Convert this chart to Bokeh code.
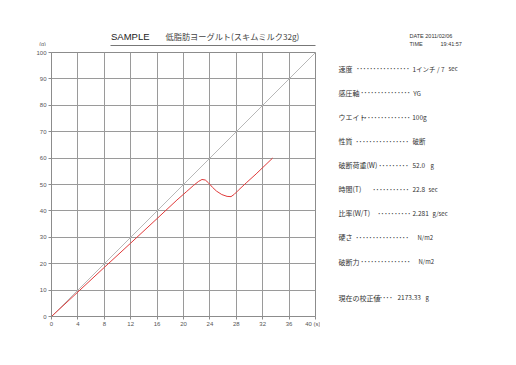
from bokeh.plotting import figure
from bokeh.models import Range1d, FixedTicker
from bokeh.layouts import column, row
from bokeh.core.properties import value
from bokeh.embed import file_html
from bokeh.resources import INLINE

# ---- data ----
time_s = [0, 4, 8, 12, 16, 19, 20.5, 21.5, 22.3, 22.8, 23.3, 23.8, 24.4, 25.0,
          25.8, 26.6, 27.2, 27.7, 28.3, 29.5, 31.0, 32.5, 33.5]
load_g = [0, 9.3, 18.6, 27.8, 37.1, 44.1, 47.4, 49.6, 51.2, 51.9, 51.7, 50.6, 48.9, 47.5,
          46.2, 45.5, 45.4, 46.3, 47.8, 50.6, 54.0, 57.6, 60.0]
ref_time = [0, 40]
ref_load = [0, 100]
x_ticks = [0, 4, 8, 12, 16, 20, 24, 28, 32, 36, 40]
y_ticks = [0, 10, 20, 30, 40, 50, 60, 70, 80, 90, 100]
x_unit = "(s)"
y_unit = "(g)"

title_left = "SAMPLE"
title_right = "低脂肪ヨーグルト(スキムミルク32g)"
date_text = "DATE 2011/02/06"
time_label = "TIME"
time_value = "19:41:57"

param_names = ["速度", "感圧軸", "ウエイト", "性質", "破断荷重(W)", "時間(T)",
               "比率(W/T)", "硬さ", "破断力", "現在の校正値"]
param_values = ["1インチ / 7", "YG", "100g", "破断", "52.0", "22.8", "2.281", "", "", "2173.33"]
param_units = ["sec", "", "", "", "g", "sec", "g/sec", "N/m2", "N/m2", "g"]

# ---- layout (page pixel positions) ----
row_y = [68, 92.3, 116.5, 140.7, 164.7, 188.5, 212.5, 236.5, 261, 297]
dot_x = [355.7, 360, 360, 355, 378, 372, 377, 355, 360, 372]
dot_n = [16, 15, 15, 16, 9, 11, 10, 16, 15, 6]
value_x = [412, 412.7, 411.7, 412, 412, 412, 412, 412, 412, 397]
unit_x = [448, 0, 0, 0, 430, 428, 432, 417, 418, 425]

CJK = "Noto Sans CJK JP"
LAT = "Liberation Sans"

TOP_H = 46
CHART_W = 320
TOTAL_W, TOTAL_H = 515, 364
B_TOP = 6
B_BOT = TOTAL_H - TOP_H - B_TOP - 264
FRAME_TOP = TOP_H + B_TOP          # 52
FRAME_BOT = FRAME_TOP + 264         # 316


def blank(w, h, x0, x1, y0, y1, bt=0, bb=0):
    f = figure(width=w, height=h, output_backend="svg", toolbar_location=None, title=None,
               x_range=Range1d(x0, x1), y_range=Range1d(y1, y0),
               x_axis_location=None, y_axis_location=None,
               min_border=0, min_border_left=0, min_border_right=0,
               min_border_top=bt, min_border_bottom=bb)
    f.grid.visible = False
    f.outline_line_color = None
    f.background_fill_color = "white"
    f.border_fill_color = "white"
    return f


def txt(f, xs, ys, texts, size, font=CJK, color="#333333", align="left"):
    f.text(x=xs, y=ys, text=texts, text_font=value(font), text_font_size=value(size),
           text_color=color, text_align=align, text_baseline="middle")


# ---- top strip: title, date ----
top = blank(TOTAL_W, TOP_H, 0, TOTAL_W, 0, TOP_H)
txt(top, [110.5], [36], [title_left], "9.5px", font=LAT, color="#222222")
txt(top, [165], [35.5], [title_right], "8.2px", color="#444444")
top.segment(x0=[110], y0=[45], x1=[315], y1=[45], line_color="#777777", line_width=1)
txt(top, [409, 409, 440], [35, 43, 43], [date_text, time_label, time_value], "5.5px",
    font=LAT, color="#333333")
txt(top, [42], [43.5], [y_unit], "5.5px", font=LAT, color="#555555", align="center")

# ---- chart ----
p = figure(width=CHART_W, height=TOTAL_H - TOP_H, output_backend="svg", toolbar_location=None,
           title=None, x_range=Range1d(0, 40), y_range=Range1d(0, 100),
           min_border_left=51, min_border_right=5, min_border_top=B_TOP,
           min_border_bottom=B_BOT)
p.background_fill_color = "white"
p.border_fill_color = "white"
p.outline_line_color = "#8c8c8c"

for ax, t in ((p.xaxis, x_ticks), (p.yaxis, y_ticks)):
    ax.ticker = FixedTicker(ticks=t)
    ax.axis_line_color = "#8c8c8c"
    ax.major_tick_line_color = "#8c8c8c"
    ax.major_tick_in = 0
    ax.major_tick_out = 3
    ax.minor_tick_line_color = None
    ax.major_label_text_font = LAT
    ax.major_label_text_font_size = "6px"
    ax.major_label_text_color = "#555555"
p.xaxis.major_label_standoff = 1
p.yaxis.major_label_standoff = 2
# last x tick carries the unit, padded so that "40" stays centred on its tick
p.xaxis.major_label_overrides = {x_ticks[-1]: "\u00a0" * 5 + str(x_ticks[-1]) + " " + x_unit}

p.xgrid.ticker = FixedTicker(ticks=x_ticks)
p.ygrid.ticker = FixedTicker(ticks=y_ticks)
for g in (p.xgrid, p.ygrid):
    g.grid_line_color = "#9a9a9a"
    g.grid_line_alpha = 1.0
    g.grid_line_width = 1

p.line(ref_time, ref_load, line_color="#b8b8b8", line_width=1)
p.line(time_s, load_g, line_color="#e03a3a", line_width=1)

# ---- right panel (frame aligned with the chart frame) ----
side = blank(TOTAL_W - CHART_W, TOTAL_H - TOP_H, CHART_W, TOTAL_W, FRAME_TOP, FRAME_BOT,
             bt=B_TOP, bb=B_BOT)
txt(side, [338] * len(param_names), row_y, param_names, "7px")
txt(side, dot_x, row_y, ["\u00b7" * n for n in dot_n], "10px", font=LAT, color="#444444")
vi = [i for i, v in enumerate(param_values) if v]
txt(side, [value_x[i] for i in vi], [row_y[i] for i in vi], [param_values[i] for i in vi], "6.5px")
ui = [i for i, u in enumerate(param_units) if u]
txt(side, [unit_x[i] for i in ui], [row_y[i] for i in ui], [param_units[i] for i in ui], "6px")

layout = column(top, row(p, side))
open("out.html", "w").write(file_html(layout, INLINE))
